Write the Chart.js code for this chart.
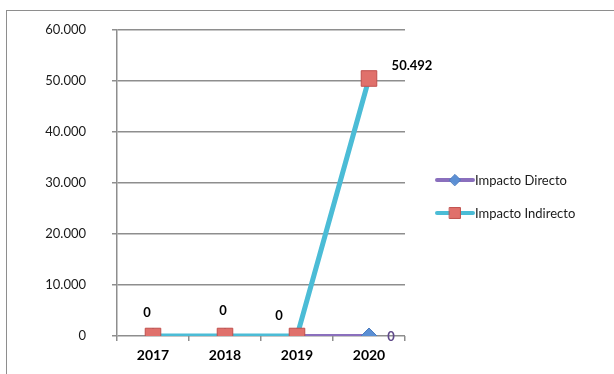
<!DOCTYPE html>
<html>
<head>
<meta charset="utf-8">
<script src="https://cdn.jsdelivr.net/npm/chart.js@4/dist/chart.umd.min.js"></script>
<style>
  body { margin: 0; background: #fff; }
  #wrap { position: relative; width: 614px; height: 374px; }
  #frame { position: absolute; left: 6px; top: 10px; right: 0; bottom: 0;
           border-top: 1.5px solid #8e8e8e; border-left: 1.5px solid #8e8e8e; }
  canvas { position: absolute; left: 0; top: 0; }
</style>
</head>
<body>
<div id="wrap">
  <div id="frame"></div>
  <canvas id="myChart" width="614" height="374"></canvas>
</div>
<script>
// data
const years = ['2017', '2018', '2019', '2020'];
const impactoDirecto = [0, 0, 0, 0];
const impactoIndirecto = [0, 0, 0, 50492];
const seriesNames = ['Impacto Directo', 'Impacto Indirecto'];

const FONT = 'Lato, "Open Sans", sans-serif';

// format 50492 -> 50.492
function fmt (v) {
  return String(Math.round(v)).replace(/\B(?=(\d{3})+(?!\d))/g, '.');
}

// draws value labels + a legend with line and marker, like the excel one
const labelsPlugin = {
  id: 'labelsPlugin',
  afterDatasetsDraw (chart, args, opts) {
    const ctx = chart.ctx;
    ctx.save();
    ctx.textAlign = 'center';
    ctx.textBaseline = 'middle';
    chart.data.datasets.forEach((ds, i) => {
      const meta = chart.getDatasetMeta(i);
      const offs = opts.offsets[i];
      ctx.fillStyle = opts.colors[i];
      ctx.font = 'bold 13px ' + FONT;
      meta.data.forEach((pt, j) => {
        const o = offs[j];
        if (!o) return;
        ctx.fillText(fmt(ds.data[j]), pt.x + o[0], pt.y + o[1]);
      });
    });
    ctx.restore();
  },
  afterDraw (chart, args, opts) {
    const ctx = chart.ctx;
    chart.data.datasets.forEach((ds, i) => {
      const y = opts.legendY[i];
      const x0 = opts.legendX;
      ctx.save();
      ctx.strokeStyle = ds.borderColor;
      ctx.lineWidth = 4;
      ctx.lineCap = 'round';
      ctx.beginPath();
      ctx.moveTo(x0, y);
      ctx.lineTo(x0 + 36, y);
      ctx.stroke();
      // marker
      ctx.fillStyle = ds.pointBackgroundColor;
      ctx.strokeStyle = ds.pointBorderColor;
      ctx.lineWidth = 1;
      Chart.helpers.drawPoint(ctx, {
        pointStyle: ds.pointStyle,
        radius: ds.pointRadius * 0.7,
        borderWidth: 1
      }, x0 + 18, y);
      // text
      ctx.fillStyle = '#1a1a1a';
      ctx.font = '13px ' + FONT;
      ctx.textBaseline = 'middle';
      ctx.fillText(ds.label, x0 + 38, y + 1);
      ctx.restore();
    });
  }
};

const data = {
  labels: years,
  datasets: [{
    label: seriesNames[0],
    data: impactoDirecto,
    borderColor: '#8a6fbd',
    borderWidth: 4,
    pointStyle: 'rectRot',
    pointRadius: 8,
    pointBackgroundColor: '#5b8fd4',
    pointBorderColor: '#4a7cc0',
    pointBorderWidth: 1,
    order: 1
  }, {
    label: seriesNames[1],
    data: impactoIndirecto,
    borderColor: '#4bbcd6',
    borderWidth: 5,
    pointStyle: 'rect',
    pointRadius: 11,
    pointBackgroundColor: '#e0706b',
    pointBorderColor: '#c0504d',
    pointBorderWidth: 1,
    order: 0
  }]
};

const config = {
  type: 'line',
  data: data,
  options: {
    responsive: false,
    animation: false,
    events: [],
    layout: { padding: { left: 0, top: 30, right: 209, bottom: 0 } },
    plugins: {
      legend: { display: false },
      tooltip: { enabled: false },
      labelsPlugin: {
        colors: ['#604a8a', '#000000'],
        offsets: [
          [null, null, null, [22, 1]],
          [[-6, -23], [-2, -25], [-18, -20], [43, -13]]
        ],
        legendX: 437,
        legendY: [180, 213]
      }
    },
    scales: {
      x: {
        offset: true,
        grid: { offset: true, drawOnChartArea: false, drawTicks: true, tickLength: 5, color: '#8e8e8e', lineWidth: 1.5 },
        border: { display: false },
        ticks: { color: '#000', font: { family: FONT, size: 14, weight: 'bold' }, padding: 6 },
        afterFit: (s) => { s.height = 38; }
      },
      y: {
        min: 0,
        max: 60000,
        ticks: { stepSize: 10000, color: '#1a1a1a', padding: 26, font: { family: FONT, size: 13 }, callback: (v) => fmt(v) },
        grid: { color: '#8e8e8e', lineWidth: 1.5, tickLength: 5 },
        border: { color: '#8e8e8e', width: 1.5 },
        afterFit: (s) => {
          s.width = 117;
          // tick padding is only meant horizontally here
          s.paddingTop = 8;
          s.paddingBottom = 8;
        }
      }
    }
  },
  plugins: [labelsPlugin]
};

window.addEventListener('DOMContentLoaded', () => {
  const myChart = new Chart(document.getElementById('myChart'), config);
});
</script>
</body>
</html>
